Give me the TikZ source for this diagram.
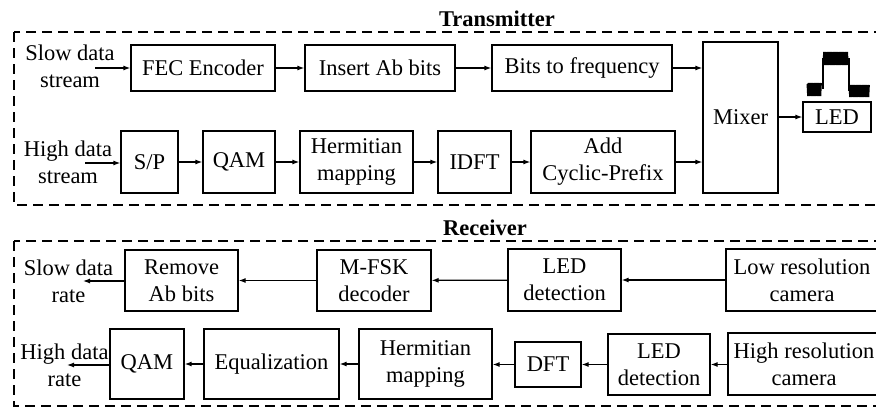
\documentclass[tikz,border=0pt]{standalone}
\usepackage{fontspec}
\setmainfont{Liberation Serif}
\usetikzlibrary{arrows.meta}
\newcommand{\fsz}{\fontsize{22.5}{27}\selectfont}
\tikzset{
  blk/.style={draw, line width=1.2pt, inner sep=0pt, align=center, font=\fsz},
  lbl/.style={inner sep=0pt, align=center, font=\fsz},
  ttl/.style={inner sep=0pt, font=\fsz\bfseries},
  arr/.style={-{Latex[length=7pt,width=5pt]}, line width=1.2pt},
  frame/.style={dashed, dash pattern=on 10pt off 6pt, line width=1.2pt},
  noise/.style={line width=0.9pt, line join=miter}
}
\begin{document}
\begin{tikzpicture}[x=1pt,y=-1pt]
\clip (0,0) rectangle (876,407);
% frames
\draw[frame] (14,32) rectangle (900,205);
\draw[frame] (14,241) rectangle (900,406);
\node[ttl] (ttx) at (497,19) {Transmitter};
\node[ttl] (trx) at (485,228) {Receiver};
% Transmitter row 1
\node[lbl] (sds) at (70,66.5) {Slow data\\stream};
\coordinate (sdsin) at (95,68);
\node[blk, minimum width=144pt, minimum height=46pt] (fec) at (203,68) {FEC Encoder};
\node[blk, minimum width=150pt, minimum height=46pt] (ins) at (380,68) {Insert Ab bits};
\node[blk, minimum width=180pt, minimum height=46pt] (b2f) at (582,68) {Bits to frequency};
\node[blk, minimum width=75pt, minimum height=151pt] (mix) at (740.5,117.5) {Mixer};
\node[blk, minimum width=68pt, minimum height=30pt] (led) at (837,117) {LED};
% Transmitter row 2
\node[lbl] (hds) at (68,162.5) {High data\\stream};
\coordinate (hdsin) at (85,163);
\node[blk, minimum width=57pt, minimum height=62pt] (sp) at (149.5,162) {S/P};
\node[blk, minimum width=72pt, minimum height=62pt] (qam) at (239,162) {QAM};
\node[blk, minimum width=113pt, minimum height=62pt] (herm) at (356.5,162) {Hermitian\\mapping};
\node[blk, minimum width=73pt, minimum height=62pt] (idft) at (474.5,162) {IDFT};
\node[blk, minimum width=144pt, minimum height=62pt] (acp) at (603,162) {Add\\Cyclic-Prefix};
\draw[arr] (sdsin) -- (fec.west |- sdsin);
\draw[arr] (fec) -- (ins);
\draw[arr] (ins) -- (b2f);
\draw[arr] (b2f.east) -- (b2f.east -| mix.west);
\draw[arr] (hdsin) -- (sp.west |- hdsin);
\draw[arr] (sp) -- (qam);
\draw[arr] (qam) -- (herm);
\draw[arr] (herm) -- (idft);
\draw[arr] (idft) -- (acp);
\draw[arr] (acp.east) -- (acp.east -| mix.west);
\draw[arr] (mix.east |- led.west) -- (led.west);
% waveform
\draw[noise] (807,84) \foreach \x in {807,808.2,...,821} {-- ({\x+0.6},96) -- ({\x+1.2},83)};
\draw[line width=1.2pt] (823,89) -- (823,58);
\draw[noise] (823,65) \foreach \x in {823,824.2,...,847.5} {-- ({\x+0.6},52) -- ({\x+1.2},65)};
\draw[line width=1.2pt] (849,58) -- (849,91);
\draw[noise] (849,85) \foreach \x in {849,850.2,...,868.5} {-- ({\x+0.6},97) -- ({\x+1.2},85)};
% Receiver row 1
\node[lbl] (sdr) at (68.5,281.5) {Slow data\\rate};
\coordinate (sdrout) at (83,281);
\node[blk, minimum width=113pt, minimum height=61pt] (rem) at (181.5,280.5) {Remove\\Ab bits};
\node[blk, minimum width=114pt, minimum height=61pt] (mfsk) at (374,280.5) {M-FSK\\decoder};
\node[blk, minimum width=113pt, minimum height=62pt] (ledd1) at (564.5,280) {LED\\detection};
\node[blk, minimum width=152pt, minimum height=62pt] (low) at (802,280) {Low resolution\\camera};
\draw[arr] (low) -- (ledd1);
\draw[arr] (ledd1) -- (mfsk);
\draw[arr] (mfsk) -- (rem);
\draw[arr] (rem.west |- sdrout) -- (sdrout);
% Receiver row 2
\node[lbl] (hdr) at (64.5,365) {High data\\rate};
\coordinate (hdrout) at (67,365);
\node[blk, minimum width=74pt, minimum height=70pt] (qam2) at (147,364) {QAM};
\node[blk, minimum width=135pt, minimum height=70pt] (eq) at (271.5,364) {Equalization};
\node[blk, minimum width=133pt, minimum height=70pt] (herm2) at (425.5,364) {Hermitian\\mapping};
\node[blk, minimum width=66pt, minimum height=45pt] (dft) at (548,364.5) {DFT};
\node[blk, minimum width=102pt, minimum height=61pt] (ledd2) at (659,364.5) {LED\\detection};
\node[blk, minimum width=152pt, minimum height=62pt] (high) at (804,364) {High resolution\\camera};
\draw[arr] (high.west |- ledd2) -- (ledd2);
\draw[arr] (ledd2) -- (dft);
\draw[arr] (dft) -- (herm2.east |- dft);
\draw[arr] (herm2) -- (eq);
\draw[arr] (eq) -- (qam2);
\draw[arr] (qam2.west |- hdrout) -- (hdrout);
\end{tikzpicture}
\end{document}
